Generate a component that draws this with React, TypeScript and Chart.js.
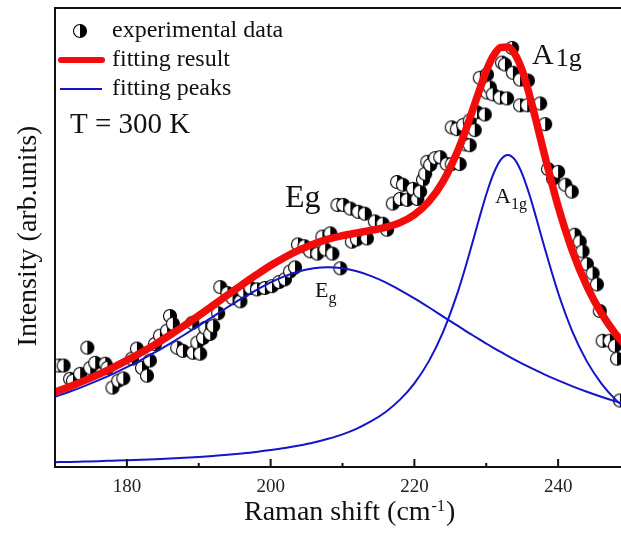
import React, { useEffect, useRef } from "react";
import { Chart, registerables } from "chart.js";

Chart.register(...registerables);

// ---- data ----
const ramanX = [170, 172, 174, 176, 178, 180, 182, 184, 186, 188, 190, 192, 194, 196, 198, 200, 202, 204, 206, 208, 210, 212, 214, 216, 218, 220, 222, 224, 226, 227, 228, 229, 230, 231, 232, 233, 234, 235, 236, 237, 238, 240, 242, 244, 246, 248, 250];
const fitY = [16.35, 17.51, 18.77, 20.13, 21.62, 23.22, 24.94, 26.78, 28.76, 30.83, 32.99, 35.2, 37.46, 39.69, 41.84, 43.9, 45.71, 47.3, 48.6, 49.64, 50.4, 51.0, 51.56, 52.21, 53.23, 54.97, 57.81, 62.23, 68.74, 72.76, 77.24, 81.87, 86.27, 89.6, 91.4, 91.5, 89.9, 86.41, 81.12, 75.02, 68.68, 56.81, 47.03, 39.41, 33.54, 28.97, 25.37];
const egY = [15.31, 16.4, 17.58, 18.86, 20.25, 21.75, 23.36, 25.07, 26.9, 28.81, 30.79, 32.78, 34.8, 36.74, 38.56, 40.22, 41.59, 42.63, 43.28, 43.5, 43.28, 42.63, 41.59, 40.22, 38.56, 36.74, 34.8, 32.78, 30.79, 29.78, 28.81, 27.84, 26.9, 25.97, 25.07, 24.21, 23.36, 22.54, 21.75, 20.99, 20.25, 18.86, 17.58, 16.4, 15.31, 14.3, 13.38];
const a1gY = [1.04, 1.11, 1.19, 1.27, 1.37, 1.47, 1.58, 1.71, 1.86, 2.02, 2.2, 2.42, 2.66, 2.95, 3.28, 3.68, 4.12, 4.67, 5.32, 6.14, 7.12, 8.37, 9.97, 11.99, 14.67, 18.23, 23.01, 29.45, 37.95, 42.98, 48.43, 54.03, 59.37, 63.87, 66.92, 68.0, 66.92, 63.87, 59.37, 54.03, 48.43, 37.95, 29.45, 23.01, 18.23, 14.67, 11.99];

const expX = [170.5, 171.2, 172.1, 172.5, 173.5, 174.5, 174.9, 175.6, 177.0, 177.3, 178.0, 178.8, 179.5, 180.7, 181.4, 182.1, 182.8, 183.2, 183.9, 184.6, 185.6, 186.0, 186.4, 187.0, 187.8, 189.1, 189.2, 189.8, 190.2, 190.6, 190.9, 191.6, 192.0, 192.7, 193.0, 194.0, 194.7, 195.8, 196.2, 197.2, 198.1, 199.2, 200.2, 201.2, 202.0, 202.7, 203.4, 203.8, 204.7, 205.5, 206.5, 207.2, 207.6, 208.3, 208.6, 209.3, 209.7, 210.1, 211.1, 211.3, 212.0, 212.2, 213.1, 213.4, 214.5, 215.6, 216.2, 217.0, 217.6, 218.0, 218.4, 219.0, 219.8, 220.4, 220.8, 221.2, 221.5, 221.8, 222.2, 222.9, 223.6, 224.5, 225.2, 225.2, 225.9, 226.3, 226.8, 227.1, 227.7, 227.7, 228.4, 228.7, 229.1, 229.8, 230.1, 230.1, 230.5, 230.9, 231.9, 232.2, 232.6, 232.9, 233.6, 233.7, 234.7, 234.7, 235.7, 235.8, 237.5, 238.2, 238.6, 239.3, 240.0, 241.0, 241.9, 242.3, 243.0, 243.4, 244.0, 244.8, 245.4, 245.8, 246.2, 247.2, 247.9, 248.2, 248.6];
const expY = [22.1, 22.1, 19.2, 18.8, 20.3, 26.0, 21.6, 22.7, 22.5, 21.6, 17.3, 18.8, 19.3, 23.6, 25.8, 21.6, 19.9, 23.2, 26.8, 28.6, 29.7, 32.9, 31.2, 26.0, 25.3, 31.4, 24.9, 27.1, 24.7, 28.1, 30.3, 29.0, 30.7, 33.5, 39.2, 37.9, 36.8, 36.1, 38.3, 39.0, 38.7, 39.0, 39.4, 40.3, 40.9, 42.6, 43.5, 48.5, 48.1, 47.0, 46.5, 50.2, 47.4, 50.9, 46.5, 57.1, 43.3, 57.1, 56.3, 49.1, 49.6, 55.6, 55.2, 49.8, 53.5, 53.0, 51.7, 57.4, 62.1, 58.4, 61.5, 58.2, 60.6, 58.4, 60.0, 62.6, 63.9, 66.5, 65.8, 67.3, 67.5, 66.0, 66.0, 74.0, 73.6, 66.0, 74.5, 70.3, 70.1, 75.5, 73.4, 77.3, 84.8, 76.8, 85.5, 81.6, 82.7, 81.2, 80.5, 88.1, 87.7, 80.3, 91.3, 85.9, 84.4, 78.8, 78.8, 84.2, 79.2, 74.7, 64.9, 62.8, 64.3, 61.5, 60.0, 50.6, 49.1, 47.0, 44.2, 42.2, 39.8, 34.0, 27.5, 27.5, 26.4, 23.6, 14.5];

const xTicks = [180, 200, 220, 240];
const xMinorTicks = [190, 210, 230];
const xRange = [170, 250];
const yRange = [0, 100];

const legendLabels = ["experimental data", "fitting result", "fitting peaks"];
const tempLabel = "T = 300 K";
const xTitleMain = "Raman shift (cm";
const xTitleSup = "-1";
const xTitleEnd = ")";
const yTitle = "Intensity (arb.units)";

const SERIF = '"Liberation Serif", "Times New Roman", Times, serif';
const RED = "#f20c0c";
const BLUE = "#1414c8";

function makeHalfCircle(r: number): HTMLCanvasElement {
  const s = Math.ceil(r * 2 + 3);
  const c = document.createElement("canvas");
  c.width = s;
  c.height = s;
  const g = c.getContext("2d")!;
  const cx = s / 2, cy = s / 2;
  g.beginPath();
  g.arc(cx, cy, r, 0, Math.PI * 2);
  g.fillStyle = "#fff";
  g.fill();
  g.beginPath();
  g.moveTo(cx, cy - r);
  g.arc(cx, cy, r, -Math.PI / 2, Math.PI / 2);
  g.closePath();
  g.fillStyle = "#000";
  g.fill();
  g.beginPath();
  g.arc(cx, cy, r, 0, Math.PI * 2);
  g.lineWidth = 1.1;
  g.strokeStyle = "#000";
  g.stroke();
  return c;
}

export default function App() {
  const ref = useRef<HTMLCanvasElement | null>(null);

  useEffect(() => {
    if (!ref.current) return;
    const marker = makeHalfCircle(6.5);

    const decor = {
      id: "decor",
      afterDraw(chart: any) {
        const { ctx, chartArea: a, scales } = chart;
        const x = scales.x;
        ctx.save();
        // frame
        ctx.strokeStyle = "#111";
        ctx.lineWidth = 2;
        ctx.strokeRect(a.left, a.top, a.right - a.left, a.bottom - a.top);
        // inward ticks
        const tick = (v: number, len: number) => {
          const px = x.getPixelForValue(v);
          ctx.beginPath();
          ctx.moveTo(px, a.bottom);
          ctx.lineTo(px, a.bottom - len);
          ctx.stroke();
        };
        xTicks.forEach((v) => tick(v, 8));
        xMinorTicks.forEach((v) => tick(v, 4));

        ctx.fillStyle = "#111";
        ctx.textBaseline = "alphabetic";
        ctx.textAlign = "left";

        // legend
        ctx.drawImage(marker, 80 - marker.width / 2, 31 - marker.height / 2);
        ctx.strokeStyle = RED;
        ctx.lineWidth = 6;
        ctx.lineCap = "round";
        ctx.beginPath();
        ctx.moveTo(61, 60);
        ctx.lineTo(102, 60);
        ctx.stroke();
        ctx.strokeStyle = BLUE;
        ctx.lineWidth = 2;
        ctx.lineCap = "butt";
        ctx.beginPath();
        ctx.moveTo(60, 89);
        ctx.lineTo(102, 89);
        ctx.stroke();
        ctx.font = `24px ${SERIF}`;
        ctx.fillText(legendLabels[0], 112, 37);
        ctx.fillText(legendLabels[1], 112, 66);
        ctx.fillText(legendLabels[2], 112, 95);
        ctx.font = `29px ${SERIF}`;
        ctx.fillText(tempLabel, 70, 133);

        // peak labels (big)
        ctx.font = `32px ${SERIF}`;
        ctx.fillText("Eg", 285, 207);
        ctx.font = `30px ${SERIF}`;
        ctx.fillText("A", 532, 64);
        let w = ctx.measureText("A").width;
        ctx.font = `26px ${SERIF}`;
        ctx.fillText("1g", 532 + w + 2, 66);

        // peak labels (small, subscript)
        ctx.font = `22px ${SERIF}`;
        ctx.fillText("E", 315, 297);
        w = ctx.measureText("E").width;
        ctx.font = `16px ${SERIF}`;
        ctx.fillText("g", 315 + w, 303);
        ctx.font = `22px ${SERIF}`;
        ctx.fillText("A", 495, 203);
        w = ctx.measureText("A").width;
        ctx.font = `16px ${SERIF}`;
        ctx.fillText("1g", 495 + w, 209);

        // x title
        ctx.fillStyle = "#111";
        ctx.font = `28px ${SERIF}`;
        let tx = 244;
        ctx.fillText(xTitleMain, tx, 520);
        tx += ctx.measureText(xTitleMain).width + 1;
        ctx.font = `16px ${SERIF}`;
        ctx.fillText(xTitleSup, tx, 511);
        tx += ctx.measureText(xTitleSup).width + 1;
        ctx.font = `28px ${SERIF}`;
        ctx.fillText(xTitleEnd, tx, 520);

        // y title
        ctx.save();
        ctx.translate(36, 236);
        ctx.rotate(-Math.PI / 2);
        ctx.textAlign = "center";
        ctx.font = `28px ${SERIF}`;
        ctx.fillText(yTitle, 0, 0);
        ctx.restore();

        ctx.restore();
      },
    };

    const curve = (ys: number[]) => ramanX.map((x, i) => ({ x, y: ys[i] }));

    const chart = new Chart(ref.current, {
      type: "scatter",
      data: {
        datasets: [
          {
            label: "fitting result",
            data: curve(fitY),
            showLine: true,
            borderColor: RED,
            backgroundColor: RED,
            borderWidth: 7.5,
            pointRadius: 0,
            cubicInterpolationMode: "monotone",
            order: 0,
          } as any,
          {
            label: "Eg peak",
            data: curve(egY),
            showLine: true,
            borderColor: BLUE,
            backgroundColor: BLUE,
            borderWidth: 2,
            pointRadius: 0,
            cubicInterpolationMode: "monotone",
            order: 1,
          } as any,
          {
            label: "A1g peak",
            data: curve(a1gY),
            showLine: true,
            borderColor: BLUE,
            backgroundColor: BLUE,
            borderWidth: 2,
            pointRadius: 0,
            cubicInterpolationMode: "monotone",
            order: 1,
          } as any,
          {
            label: "experimental data",
            data: expX.map((x, i) => ({ x, y: expY[i] })),
            showLine: false,
            pointStyle: marker,
            pointRadius: 7,
            order: 2,
          } as any,
        ],
      },
      options: {
        responsive: false,
        animation: false,
        events: [],
        layout: { padding: { top: 5, right: 10, left: 0, bottom: 0 } },
        plugins: { legend: { display: false }, tooltip: { enabled: false } },
        scales: {
          x: {
            type: "linear",
            min: xRange[0],
            max: xRange[1],
            afterFit: (s: any) => {
              s.height = 73;
            },
            afterBuildTicks: (s: any) => {
              s.ticks = xTicks.map((v) => ({ value: v }));
            },
            grid: { display: false, drawTicks: false },
            border: { display: false },
            ticks: {
              padding: 9,
              color: "#222",
              font: { family: SERIF, size: 19 },
              maxRotation: 0,
            },
          },
          y: {
            type: "linear",
            min: yRange[0],
            max: yRange[1],
            afterFit: (s: any) => {
              s.width = 55;
            },
            ticks: { display: false },
            grid: { display: false },
            border: { display: false },
          },
        },
      } as any,
      plugins: [decor],
    });

    return () => chart.destroy();
  }, []);

  return (
    <div
      style={{
        position: "fixed",
        left: 0,
        top: 0,
        width: 621,
        height: 540,
        overflow: "hidden",
        background: "#fff",
      }}
    >
      <canvas ref={ref} width={640} height={540} style={{ display: "block" }} />
    </div>
  );
}
